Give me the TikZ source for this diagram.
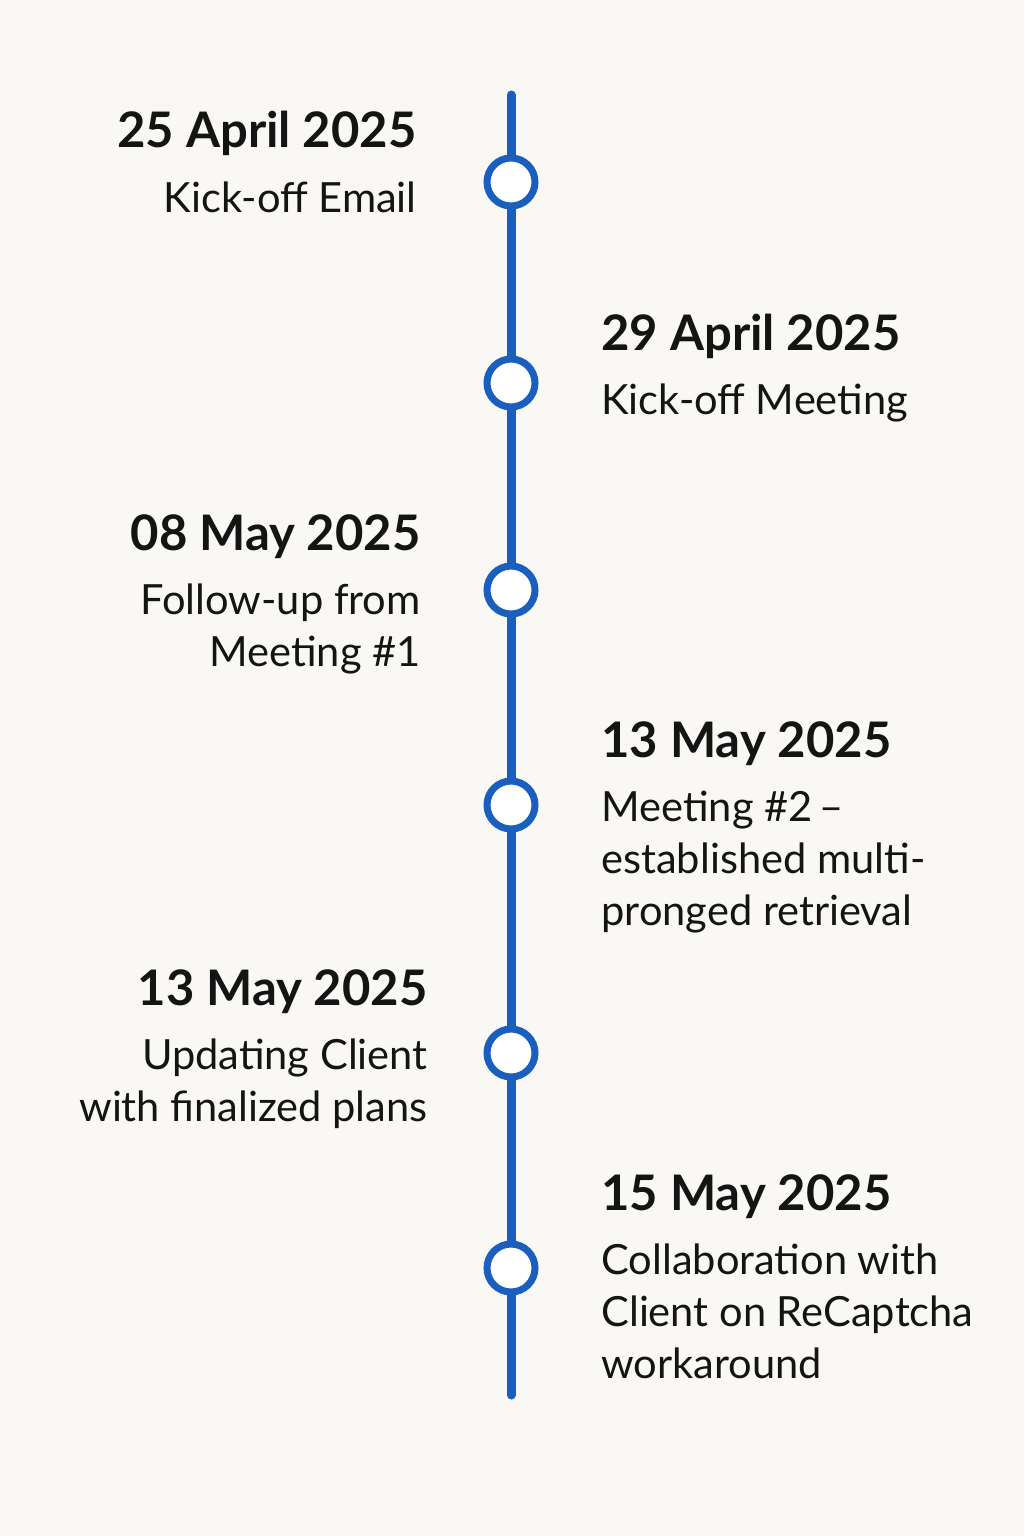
\documentclass[tikz,border=0pt]{standalone}
\usepackage{fontspec}
\setmainfont{Lato}
\usetikzlibrary{positioning}

\definecolor{lineblue}{RGB}{26,95,190}
\definecolor{paper}{RGB}{249,248,245}
\definecolor{ink}{RGB}{20,20,20}

\tikzset{
  event/.style={circle, draw=lineblue, line width=3.5pt, fill=white, minimum size=24pt, inner sep=0pt},
  datelabel/.style={font=\fontsize{24.5}{28}\selectfont\bfseries, text=ink, inner sep=0pt},
  desclabel/.style={font=\fontsize{20.8}{26}\selectfont, text=ink, inner sep=0pt},
}

\begin{document}
\begin{tikzpicture}[x=0.5pt, y=-0.5pt]
  % page
  \fill[paper] (0,0) rectangle (1024,1536);
  \useasboundingbox (0,0) rectangle (1024,1536);

  % --- Timeline ---
  \coordinate (top) at (511,95);
  \coordinate (bottom) at (511,1395);
  \node[event] (e1) at (511,182) {};
  \node[event] (e2) at (511,383) {};
  \node[event] (e3) at (511,590) {};
  \node[event] (e4) at (511,805) {};
  \node[event] (e5) at (511,1053) {};
  \node[event] (e6) at (511,1268) {};
  \draw[lineblue, line width=4.5pt, line cap=round]
    (top) -- (e1) -- (e2) -- (e3) -- (e4) -- (e5) -- (e6) -- (bottom);

  % --- Left side ---
  \node[datelabel, anchor=base east] (d1) at (417,148) {25 April 2025};
  \node[desclabel, below=12.5pt of d1.south east, anchor=north east, align=right] (t1) {Kick-off Email};

  \node[datelabel, anchor=base east] (d3) at (421,550) {08 May 2025};
  \node[desclabel, below=12.5pt of d3.south east, anchor=north east, align=right] (t3) {Follow-up from\\Meeting \#1};

  \node[datelabel, anchor=base east] (d5) at (428,1005) {13 May 2025};
  \node[desclabel, below=12.5pt of d5.south east, anchor=north east, align=right] (t5) {Updating Client\\with finalized plans};

  % --- Right side ---
  \node[datelabel, anchor=base west] (d2) at (601,350) {29 April 2025};
  \node[desclabel, below=12.5pt of d2.south west, anchor=north west, align=left] (t2) {Kick-off Meeting};

  \node[datelabel, anchor=base west] (d4) at (601,757) {13 May 2025};
  \node[desclabel, below=12.5pt of d4.south west, anchor=north west, align=left] (t4) {Meeting \#2\,–\\established multi-\\pronged retrieval};

  \node[datelabel, anchor=base west] (d6) at (601,1210) {15 May 2025};
  \node[desclabel, below=12.5pt of d6.south west, anchor=north west, align=left] (t6) {Collaboration with\\Client on ReCaptcha\\workaround};

\end{tikzpicture}
\end{document}
